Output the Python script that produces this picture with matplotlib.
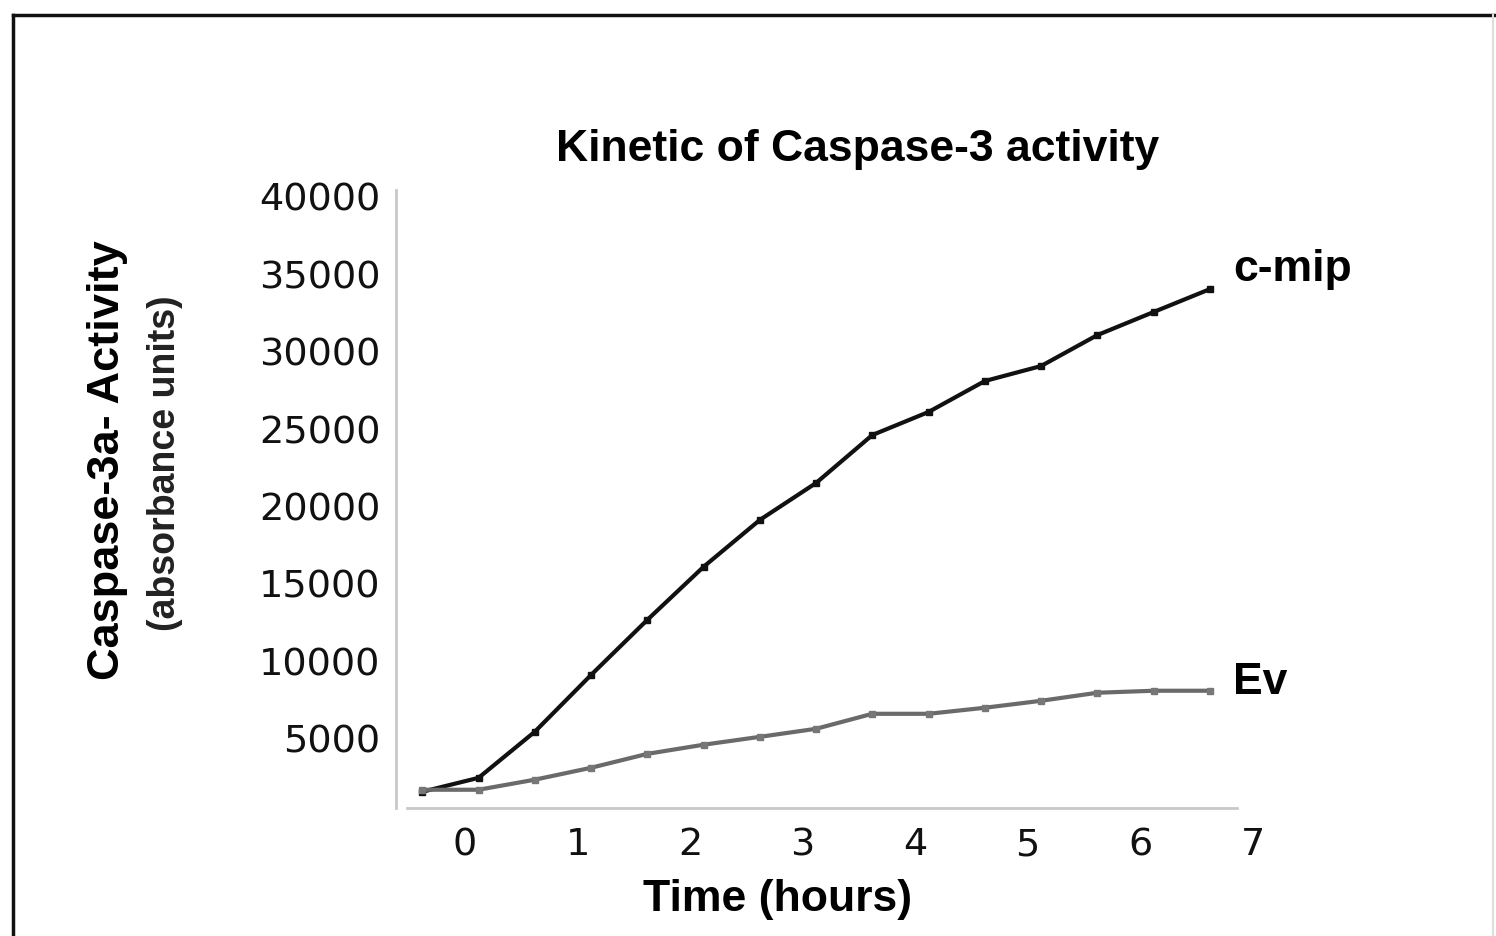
import matplotlib
matplotlib.use('Agg')
import matplotlib.pyplot as plt
from matplotlib.lines import Line2D

# Data
time_h = [-0.38, 0.12, 0.62, 1.12, 1.62, 2.12, 2.62, 3.12, 3.62, 4.12,
          4.62, 5.12, 5.62, 6.12, 6.62]
cmip = [1550, 2450, 5430, 9100, 12660, 16090, 19120, 21510, 24610, 26100,
        28100, 29070, 31070, 32560, 34040]
ev = [1680, 1680, 2330, 3100, 4000, 4590, 5100, 5620, 6590, 6590,
      6980, 7430, 7950, 8080, 8080]
series_names = ['c-mip', 'Ev']
xticks = [0, 1, 2, 3, 4, 5, 6, 7]
yticks = [5000, 10000, 15000, 20000, 25000, 30000, 35000, 40000]

bold_font = 'Liberation Sans'
W, H = 1496, 936

fig = plt.figure(figsize=(14.96, 9.36), dpi=100)
# x range -0.516 .. 7.1 at 112.5 px per hour, starting at px 407
x0, x1 = -0.516, 7.1
ax = fig.add_axes([407 / W, 1 - 808 / H, (x1 - x0) * 112.5 / W, (808 - 190) / H])

ax.plot(time_h, cmip, color='#111111', lw=3, marker='s', ms=4, mfc='#111111', mec='#111111')
ax.plot(time_h, ev, color='#6a6a6a', lw=3, marker='s', ms=4, mfc='#777777', mec='#777777')

ax.set_xticks(xticks)
ax.set_yticks(yticks)
ax.set_xlim(x0, x1)
ax.set_ylim(500, 40450)
ax.tick_params(length=0, labelsize=27.5, labelcolor='#111111')
ax.tick_params(axis='y', pad=11)
ax.tick_params(axis='x', pad=14)
for lab in ax.get_xticklabels() + ax.get_yticklabels():
    lab.set_family('DejaVu Sans')

for s in ['top', 'right']:
    ax.spines[s].set_visible(False)
ax.spines['left'].set_position(('outward', 8))
ax.spines['bottom'].set_bounds(x0, 6.86)
ax.spines['left'].set_color('#c8c8c8')
ax.spines['bottom'].set_color('#c8c8c8')
ax.spines['left'].set_linewidth(2)
ax.spines['bottom'].set_linewidth(2)

fig.text(858 / W, 1 - 150 / H, 'Kinetic of Caspase-3 activity', fontsize=32,
         fontweight='bold', family=bold_font, ha='center', va='center')
fig.text(778 / W, 1 - 900 / H, 'Time (hours)', fontsize=32, fontweight='bold',
         family=bold_font, ha='center', va='center')
fig.text(108 / W, 1 - 460 / H, 'Caspase-3a- Activity', rotation=90, fontsize=32.5,
         fontweight='bold', family=bold_font, ha='center', va='center')
fig.text(165 / W, 1 - 463 / H, '(absorbance units)', rotation=90, fontsize=27,
         fontweight='bold', family=bold_font, ha='center', va='center', color='#222222')

# series labels at line ends
ax.annotate(series_names[0], (time_h[-1], cmip[-1]), xytext=(17, 14),
            textcoords='offset points', fontsize=32, fontweight='bold',
            family=bold_font, ha='left', va='center')
ax.annotate(series_names[1], (time_h[-1], ev[-1]), xytext=(17, 6),
            textcoords='offset points', fontsize=32, fontweight='bold',
            family=bold_font, ha='left', va='center')

# outer frame
fig.add_artist(Line2D([13 / W, 1], [1 - 15 / H, 1 - 15 / H], color='#111111', lw=2.5))
fig.add_artist(Line2D([13 / W, 13 / W], [0, 1 - 15 / H], color='#111111', lw=2.5))
fig.add_artist(Line2D([1493 / W, 1493 / W], [0, 1 - 15 / H], color='#dddddd', lw=1.5))

fig.savefig('out.png', dpi=100)
